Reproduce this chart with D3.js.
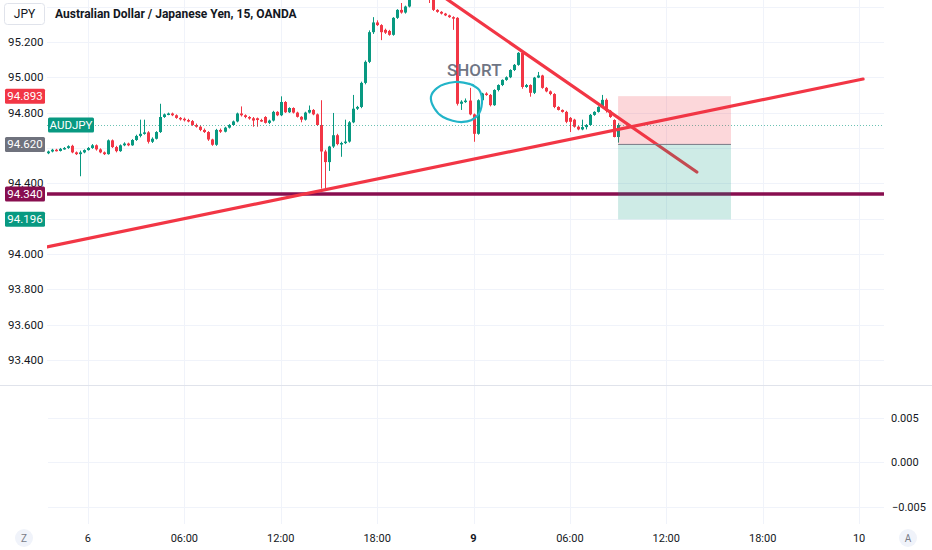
<!DOCTYPE html>
<html>
<head>
<meta charset="utf-8">
<script src="https://cdnjs.cloudflare.com/ajax/libs/d3/7.8.5/d3.min.js"></script>
<style>
body { margin: 0; background: #fff; }
text { font-family: Roboto, "Noto Sans", sans-serif; }
</style>
</head>
<body>
<div id="chart"></div>
<script>
// AUDJPY 15 min candles
var opens = [94.570,94.580,94.590,94.583,94.595,94.600,94.612,94.575,94.565,94.575,94.588,94.600,94.615,94.592,94.575,94.565,94.643,94.605,94.582,94.615,
  94.625,94.615,94.645,94.668,94.680,94.688,94.635,94.652,94.690,94.775,94.790,94.795,94.785,94.770,94.765,94.758,94.752,94.730,94.720,94.702,
  94.690,94.648,94.618,94.702,94.692,94.715,94.730,94.750,94.795,94.785,94.775,94.768,94.768,94.758,94.775,94.742,94.755,94.804,94.785,94.860,
  94.802,94.826,94.800,94.776,94.760,94.800,94.815,94.790,94.730,94.580,94.520,94.608,94.672,94.622,94.628,94.636,94.745,94.822,94.832,94.968,
  95.087,95.255,95.310,95.295,95.268,95.262,95.240,95.336,95.381,95.366,95.400,95.450,95.500,95.530,95.510,95.480,95.445,95.381,95.370,95.360,
  95.350,95.340,95.336,94.850,94.862,94.868,94.790,94.680,94.870,94.908,94.900,94.842,94.928,94.956,94.985,95.000,95.041,95.070,95.138,94.945,
  94.956,94.912,94.998,95.010,94.940,94.920,94.905,94.832,94.815,94.804,94.770,94.760,94.720,94.705,94.718,94.730,94.787,94.804,94.832,94.872,
  94.810,94.758,94.662];
var highs = [94.585,94.595,94.595,94.600,94.605,94.615,94.618,94.580,94.585,94.592,94.605,94.622,94.620,94.598,94.580,94.648,94.648,94.612,94.620,94.632,
  94.630,94.650,94.675,94.760,94.760,94.695,94.660,94.695,94.850,94.795,94.800,94.800,94.790,94.775,94.772,94.765,94.758,94.738,94.728,94.710,
  94.695,94.652,94.708,94.710,94.720,94.735,94.755,94.800,94.835,94.790,94.780,94.775,94.772,94.765,94.780,94.760,94.810,94.808,94.892,94.865,
  94.830,94.830,94.805,94.780,94.805,94.840,94.820,94.795,94.870,94.590,94.612,94.798,94.680,94.635,94.760,94.752,94.900,94.838,94.975,95.095,
  95.265,95.340,95.322,95.300,95.275,95.268,95.340,95.385,95.420,95.405,95.455,95.505,95.540,95.535,95.515,95.485,95.450,95.385,95.374,95.364,
  95.354,95.345,95.340,94.870,94.880,94.940,94.795,94.875,94.912,94.915,94.905,94.932,94.960,94.988,95.005,95.045,95.075,95.142,95.145,94.962,
  94.960,95.002,95.030,95.014,94.945,94.925,94.910,94.836,94.818,94.810,94.775,94.765,94.725,94.760,94.735,94.792,94.808,94.836,94.900,94.880,
  94.815,94.762,94.740];
var lows = [94.565,94.575,94.580,94.580,94.590,94.595,94.570,94.560,94.440,94.570,94.585,94.595,94.585,94.570,94.560,94.562,94.600,94.575,94.578,94.610,
  94.610,94.612,94.640,94.660,94.675,94.625,94.628,94.648,94.685,94.770,94.785,94.780,94.765,94.755,94.750,94.745,94.725,94.715,94.695,94.685,
  94.640,94.612,94.612,94.685,94.688,94.710,94.725,94.745,94.778,94.768,94.760,94.720,94.720,94.748,94.738,94.735,94.750,94.780,94.780,94.798,
  94.798,94.795,94.772,94.745,94.755,94.795,94.785,94.725,94.370,94.370,94.470,94.600,94.615,94.550,94.622,94.630,94.740,94.815,94.825,94.960,
  95.080,95.245,95.290,95.210,95.245,95.235,95.235,95.330,95.360,95.360,95.395,95.445,95.495,95.505,95.475,95.420,95.375,95.365,95.355,95.346,
  95.336,95.268,94.840,94.815,94.855,94.785,94.635,94.675,94.865,94.895,94.835,94.838,94.920,94.950,94.980,94.995,95.035,95.065,94.935,94.940,
  94.890,94.905,94.995,94.935,94.915,94.898,94.825,94.812,94.800,94.740,94.690,94.715,94.700,94.700,94.705,94.725,94.782,94.800,94.828,94.800,
  94.770,94.660,94.630];
var closes = [94.580,94.590,94.583,94.595,94.600,94.610,94.575,94.565,94.575,94.588,94.600,94.615,94.592,94.575,94.565,94.643,94.605,94.582,94.615,94.625,
  94.615,94.645,94.668,94.680,94.688,94.635,94.652,94.690,94.775,94.790,94.795,94.785,94.770,94.765,94.758,94.752,94.730,94.720,94.702,94.690,
  94.648,94.618,94.702,94.692,94.715,94.730,94.750,94.795,94.785,94.775,94.768,94.755,94.758,94.752,94.742,94.755,94.804,94.785,94.860,94.802,
  94.826,94.800,94.776,94.760,94.800,94.815,94.790,94.730,94.580,94.520,94.608,94.672,94.622,94.628,94.636,94.745,94.822,94.832,94.968,95.087,
  95.255,95.310,95.295,95.255,95.252,95.240,95.336,95.381,95.366,95.400,95.450,95.500,95.530,95.510,95.480,95.445,95.381,95.370,95.360,95.350,
  95.340,95.336,94.850,94.862,94.868,94.790,94.680,94.870,94.908,94.900,94.842,94.928,94.956,94.985,95.000,95.041,95.070,95.138,94.945,94.956,
  94.912,94.998,95.010,94.940,94.920,94.905,94.832,94.815,94.804,94.748,94.748,94.720,94.705,94.718,94.730,94.787,94.804,94.832,94.872,94.810,
  94.775,94.662,94.730];

// time axis (bar index of each label)
var timeTickIndex = [10, 34, 58, 82, 106, 130, 154, 178, 202];
var timeTickLabels = ["6", "06:00", "12:00", "18:00", "9", "06:00", "12:00", "18:00", "10"];
var boldTimeLabels = ["9"];

var priceGrid = [95.4, 95.2, 95.0, 94.8, 94.6, 94.4, 94.2, 94.0, 93.8, 93.6, 93.4];
var priceTicks = [95.2, 95.0, 94.8, 94.4, 94.0, 93.8, 93.6, 93.4];
var lowerTicks = [0.005, 0, -0.005];
var lowerTickLabels = ["0.005", "0.000", "\u22120.005"];

// drawings
var risingLine = [[-0.2, 94.040], [203, 94.990]];
var fallingLine = [[98.9, 95.449], [161.6, 94.464]];
var supportLevel = 94.340;
var lastPrice = 94.730;
var positionStart = 142, positionEnd = 170.1;
var stopPrice = 94.893, entryPrice = 94.620, targetPrice = 94.196;
var loopPoints = [[105.9, 94.956], [101.4, 94.973], [96.9, 94.939], [95.4, 94.889], [96.2, 94.826], [98.4, 94.775],
  [103.4, 94.747], [106.9, 94.781], [108.1, 94.855], [107.4, 94.928], [105.1, 94.962]];
var shortLabel = {i: 99.4, p: 95.007, text: "SHORT"};
var axisLabels = [
  {value: stopPrice, color: "#f23645"},
  {value: entryPrice, color: "#6f727d"},
  {value: supportLevel, color: "#880e4f"},
  {value: targetPrice, color: "#089981"}
];

var width = 932, height = 550;
var up = "#089981", down = "#f23645";
var plotLeft = 47, plotRight = 884, mainBottom = 385, lowerTop = 385, lowerBottom = 524;

var svg = d3.select("#chart").append("svg")
  .attr("width", width)
  .attr("height", height);

var x = d3.scaleLinear().domain([0, 142]).range([47.8, 618.1]);
var y = d3.scaleLinear().domain([93.259, 95.437]).range([mainBottom, 0]);
var yLow = d3.scaleLinear().domain([-0.00694, 0.00868]).range([lowerBottom, lowerTop]);

svg.append("defs").append("clipPath").attr("id", "mainclip")
  .append("rect").attr("x", plotLeft).attr("y", 0)
  .attr("width", plotRight - plotLeft).attr("height", mainBottom);

// grid
var grid = svg.append("g").attr("class", "grid");
grid.selectAll("line.v").data(timeTickIndex).enter().append("line")
  .attr("class", "v")
  .attr("x1", function(d) { return Math.round(x(d)) + 0.5; })
  .attr("x2", function(d) { return Math.round(x(d)) + 0.5; })
  .attr("y1", 0).attr("y2", lowerBottom)
  .attr("stroke", "#f0f3fa");
grid.selectAll("line.h").data(priceGrid).enter().append("line")
  .attr("class", "h")
  .attr("x1", plotLeft).attr("x2", plotRight)
  .attr("y1", function(d) { return Math.round(y(d)) + 0.5; })
  .attr("y2", function(d) { return Math.round(y(d)) + 0.5; })
  .attr("stroke", "#f0f3fa");
grid.selectAll("line.l").data(lowerTicks).enter().append("line")
  .attr("class", "l")
  .attr("x1", plotLeft + 1).attr("x2", plotRight)
  .attr("y1", function(d) { return Math.round(yLow(d)) + 0.5; })
  .attr("y2", function(d) { return Math.round(yLow(d)) + 0.5; })
  .attr("stroke", "#f0f3fa");

// pane separator
svg.append("line")
  .attr("x1", 0).attr("x2", width)
  .attr("y1", mainBottom + 0.5).attr("y2", mainBottom + 0.5)
  .attr("stroke", "#e0e3eb");

var main = svg.append("g").attr("clip-path", "url(#mainclip)");

// candles
var bars = d3.range(closes.length).map(function(i) {
  return {i: i, o: opens[i], h: highs[i], l: lows[i], c: closes[i]};
});
var candle = main.append("g").selectAll("g").data(bars).enter().append("g");
candle.append("line")
  .attr("x1", function(d) { return Math.round(x(d.i)) + 0.5; })
  .attr("x2", function(d) { return Math.round(x(d.i)) + 0.5; })
  .attr("y1", function(d) { return y(d.h); })
  .attr("y2", function(d) { return y(d.l); })
  .attr("stroke", function(d) { return d.c >= d.o ? up : down; })
  .attr("stroke-width", 1);
candle.append("rect")
  .attr("x", function(d) { return Math.round(x(d.i)) - 1; })
  .attr("width", 3)
  .attr("y", function(d) { return y(Math.max(d.o, d.c)); })
  .attr("height", function(d) { return Math.max(1.5, Math.abs(y(d.o) - y(d.c))); })
  .attr("fill", function(d) { return d.c >= d.o ? up : down; });

// last price line
main.append("line")
  .attr("x1", plotLeft).attr("x2", plotRight)
  .attr("y1", Math.round(y(lastPrice)) + 0.5).attr("y2", Math.round(y(lastPrice)) + 0.5)
  .attr("stroke", up).attr("stroke-opacity", 0.6).attr("stroke-dasharray", "1,2");

// horizontal support
main.append("line")
  .attr("x1", plotLeft).attr("x2", plotRight)
  .attr("y1", y(supportLevel)).attr("y2", y(supportLevel))
  .attr("stroke", "#880e4f").attr("stroke-width", 3.5);

// trend lines
var trend = d3.line()
  .x(function(d) { return x(d[0]); })
  .y(function(d) { return y(d[1]); });
[risingLine, fallingLine].forEach(function(l) {
  main.append("path")
    .attr("d", trend(l))
    .attr("fill", "none")
    .attr("stroke", "#f23645")
    .attr("stroke-width", 3.2)
    .attr("stroke-linecap", "round");
});

// short position box
main.append("rect")
  .attr("x", x(positionStart)).attr("width", x(positionEnd) - x(positionStart))
  .attr("y", y(stopPrice)).attr("height", y(entryPrice) - y(stopPrice))
  .attr("fill", "rgba(242,54,69,0.2)");
main.append("rect")
  .attr("x", x(positionStart)).attr("width", x(positionEnd) - x(positionStart))
  .attr("y", y(entryPrice)).attr("height", y(targetPrice) - y(entryPrice))
  .attr("fill", "rgba(8,153,129,0.2)");
main.append("line")
  .attr("x1", x(positionStart)).attr("x2", x(positionEnd))
  .attr("y1", y(entryPrice)).attr("y2", y(entryPrice))
  .attr("stroke", "#787b86").attr("stroke-width", 1);

// hand drawn loop
main.append("path")
  .attr("d", d3.line()
    .x(function(d) { return x(d[0]); })
    .y(function(d) { return y(d[1]); })
    .curve(d3.curveCatmullRom)(loopPoints))
  .attr("fill", "none")
  .attr("stroke", "#22b4c8")
  .attr("stroke-width", 2.2)
  .attr("stroke-linecap", "round");

main.append("text")
  .attr("x", x(shortLabel.i)).attr("y", y(shortLabel.p))
  .attr("font-size", 17).attr("font-weight", 500)
  .attr("fill", "#6f7584")
  .text(shortLabel.text);

// left price scale
svg.append("g").selectAll("text").data(priceTicks).enter().append("text")
  .attr("x", 8)
  .attr("y", function(d) { return y(d); })
  .attr("dy", "0.35em")
  .attr("font-size", 11.5)
  .attr("fill", "#131722")
  .text(d3.format(".3f"));

// lower pane scale
svg.append("g").selectAll("text").data(lowerTicks).enter().append("text")
  .attr("x", function(d, i) { return d < 0 ? 892 : 891; })
  .attr("y", function(d) { return yLow(d); })
  .attr("dy", "0.35em")
  .attr("font-size", 11)
  .attr("fill", "#131722")
  .text(function(d, i) { return lowerTickLabels[i]; });

// price labels on the scale
var lab = svg.append("g").selectAll("g").data(axisLabels).enter().append("g");
lab.append("rect")
  .attr("x", 5).attr("width", 40)
  .attr("y", function(d) { return y(d.value) - 7.5; })
  .attr("height", 15)
  .attr("rx", 1.5)
  .attr("fill", function(d) { return d.color; });
lab.append("text")
  .attr("x", 25)
  .attr("y", function(d) { return y(d.value); })
  .attr("dy", "0.35em")
  .attr("text-anchor", "middle")
  .attr("font-size", 11.5)
  .attr("fill", "#fff")
  .text(function(d) { return d3.format(".3f")(d.value); });

// symbol label on the last price line
svg.append("rect")
  .attr("x", 48).attr("width", 46)
  .attr("y", y(lastPrice) - 7.5).attr("height", 15)
  .attr("rx", 1.5)
  .attr("fill", up);
svg.append("text")
  .attr("x", 71).attr("y", y(lastPrice))
  .attr("dy", "0.35em")
  .attr("text-anchor", "middle")
  .attr("font-size", 11.5)
  .attr("fill", "#fff")
  .text("AUDJPY");

// time axis
svg.append("g").selectAll("text").data(timeTickIndex).enter().append("text")
  .attr("x", function(d) { return x(d); })
  .attr("y", 538)
  .attr("dy", "0.35em")
  .attr("text-anchor", "middle")
  .attr("font-size", 11)
  .attr("font-weight", function(d, i) { return boldTimeLabels.indexOf(timeTickLabels[i]) >= 0 ? 700 : 400; })
  .attr("fill", "#131722")
  .text(function(d, i) { return timeTickLabels[i]; });

// corner buttons
[[24, "Z"], [908, "A"]].forEach(function(b) {
  svg.append("circle").attr("cx", b[0]).attr("cy", 538).attr("r", 9).attr("fill", "#f0f3fa");
  svg.append("text").attr("x", b[0]).attr("y", 538).attr("dy", "0.35em")
    .attr("text-anchor", "middle").attr("font-size", 10).attr("fill", "#787b86").text(b[1]);
});

// header
svg.append("rect")
  .attr("x", 4.5).attr("y", 3.5).attr("width", 40).attr("height", 21).attr("rx", 3)
  .attr("fill", "#fff").attr("stroke", "#e0e3eb");
svg.append("text")
  .attr("x", 24.5).attr("y", 14).attr("dy", "0.35em")
  .attr("text-anchor", "middle").attr("font-size", 12).attr("fill", "#131722")
  .text("JPY");
svg.append("text")
  .attr("x", 55).attr("y", 14).attr("dy", "0.35em")
  .attr("font-size", 12).attr("font-weight", 700).attr("fill", "#131722")
  .text("Australian Dollar / Japanese Yen, 15, OANDA");
</script>
</body>
</html>
